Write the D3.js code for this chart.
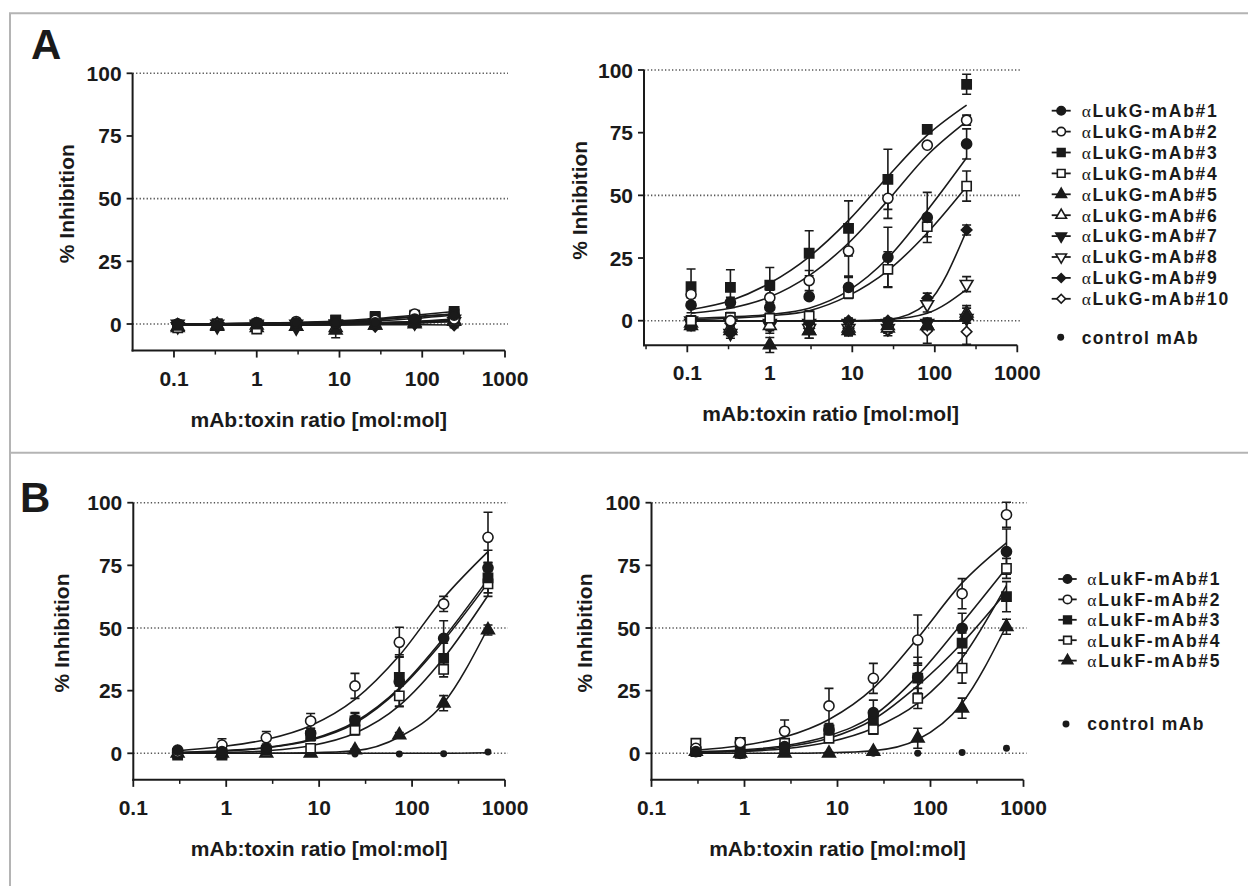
<!DOCTYPE html>
<html>
<head>
<meta charset="utf-8">
<script src="https://cdn.jsdelivr.net/npm/d3@7"></script>
<style>
    body { margin: 0; background: #fff; }
    svg text { font-family: "Liberation Sans", Arial, sans-serif; font-weight: bold; fill: #1a1a1a; }
</style>
</head>
<body>
<svg id="chart" width="1248" height="886"></svg>
<script>
'use strict';

// doses (mAb:toxin molar ratio)
var doseA = [0.111, 0.333, 1, 3, 9, 27, 81, 243];
var doseB = [0.3, 0.9, 2.7, 8.1, 24.3, 72.9, 218.7, 656.1];

var lukGNames = ['LukG-mAb#1', 'LukG-mAb#2', 'LukG-mAb#3', 'LukG-mAb#4', 'LukG-mAb#5',
    'LukG-mAb#6', 'LukG-mAb#7', 'LukG-mAb#8', 'LukG-mAb#9', 'LukG-mAb#10'];
var lukFNames = ['LukF-mAb#1', 'LukF-mAb#2', 'LukF-mAb#3', 'LukF-mAb#4', 'LukF-mAb#5'];
var controlName = 'control mAb';

var yTicks = [0, 25, 50, 75, 100];
var yGrid = [0, 50, 100];
var xTicks = [0.1, 1, 10, 100, 1000];
var xMinorTicks = [0.0316, 0.316, 3.16, 31.6, 316];
var xTickLabels = ['0.1', '1', '10', '100', '1000'];

// panel A, left
var aLeftMeans = [
    [0, -0.5, 0.5, 0.5, 0.5, 0.5, 2, 3.5],
    [0, 0, 0.5, 1, 0.5, 1.5, 4, 2],
    [-0.5, 0, 0, -0.5, 1.5, 3, 3.5, 5],
    [-1.5, 0, -2, -0.5, 1.5, 2.5, 3, 4],
    [-1.5, -1, -0.5, -1, -2.5, -0.5, 0.5, 1.5],
    [-1, -0.5, -1.5, -1, -1.5, -0.5, 0, 1],
    [-1, -1, 0, -1.5, 0, 0, 0.5, 1],
    [0, 0, -0.5, 0, 0, 0.5, 1, 2],
    [0, 0, 0, -0.5, -0.5, -1, 0, -0.5],
    [0, 0.5, 0, 0.5, 0, 0.5, 1.5, 1.5]
];
var aLeftErr = [
    [0.5, 0.5, 0.5, 0.5, 1, 1, 1, 1],
    [0.5, 0.5, 0.5, 0.5, 1, 1, 1, 1],
    [0.5, 0.5, 0.5, 0.5, 1, 1, 1, 1],
    [1, 0.5, 1, 0.5, 1, 1, 1, 1],
    [1, 0.5, 0.5, 0.5, 3, 1, 1, 1],
    [0.5, 0.5, 0.5, 0.5, 1, 1, 1, 1],
    [0.5, 0.5, 0.5, 0.5, 1, 1, 1, 1],
    [0.5, 0.5, 0.5, 0.5, 1, 1, 1, 1],
    [0.5, 0.5, 0.5, 0.5, 1, 1, 1, 1],
    [0.5, 0.5, 0.5, 0.5, 1, 1, 1, 1]
];
var aLeftFit = [
    [0, 0, 0.2, 0.4, 0.7, 1.2, 2.2, 3.6],
    [0, 0.1, 0.3, 0.6, 1, 1.8, 3, 4],
    [0, 0.1, 0.3, 0.6, 1.2, 2.2, 3.5, 5],
    [-0.3, -0.2, 0, 0.3, 0.8, 1.7, 2.8, 4],
    [-0.5, -0.5, -0.5, -0.5, -0.4, 0, 0.6, 1.5],
    [-0.5, -0.5, -0.5, -0.4, -0.3, -0.1, 0.3, 1],
    [-0.3, -0.3, -0.3, -0.2, 0, 0.2, 0.5, 1],
    [0, 0, 0, 0, 0.1, 0.4, 1, 2],
    [0, 0, 0, -0.1, -0.2, -0.3, -0.3, -0.4],
    [0, 0.1, 0.2, 0.3, 0.4, 0.6, 1, 1.5]
];
var aLeftControl = [0, 0, 0, 0, 0, 0, 0, 0];

// panel A, right
var aRightMeans = [
    [6.2, 7.3, 5.3, 9.6, 13.3, 25.3, 41.2, 70.5],
    [10.5, 0, 9.2, 16, 27.8, 48.8, 70, 80],
    [13.6, 13.3, 14.2, 26.9, 36.8, 56.4, 76.3, 94.3],
    [0, 1.3, 1, 1.9, 10.9, 20.5, 37.5, 53.7],
    [-2, -4, -9.7, -4, -4, -2, -2, 2],
    [-1, -3, -2, -4, -3, -3, -2, 3],
    [-1, -5, -2, -1, -1, -1, -1, 1],
    [0, -1, -1, -3, -3, -3, 6.5, 14.6],
    [0, 0, 0, -1, 0, 0, 9, 36.2],
    [0, -1, -1, -3, -3, -4, -4, -4.4]
];
var aRightErr = [
    [3, 2, 3, 1, 4, 12, 10, 6],
    [3, 2, 3, 4, 10, 8, 1, 2],
    [7, 7, 7, 9, 11, 12, 1, 4],
    [2, 2, 2, 2, 2, 7, 4, 6],
    [2, 2, 3, 3, 2, 2, 2, 3],
    [2, 2, 2, 3, 3, 2, 2, 3],
    [2, 2, 3, 2, 2, 2, 2, 2],
    [2, 2, 2, 2, 2, 2, 3, 3],
    [1, 1, 1, 2, 1, 1, 2, 2],
    [2, 2, 2, 2, 2, 2, 5, 5]
];
var aRightFit = [
    [1, 1.5, 2.5, 5, 12, 25, 44, 65],
    [3, 5, 9.5, 18, 31, 48, 66, 79.5],
    [4.5, 8, 15, 25.5, 40, 57.5, 74, 86],
    [0.5, 1, 2, 4, 10, 20, 35, 53.5],
    [0, 0, 0, 0, 0, 0, 0, 0],
    [0, 0, 0, 0, 0, 0, 0, 0],
    [0, 0, 0, 0, 0, 0, 0, 0],
    [0, 0, 0, 0, 0, 0.5, 3, 12.5],
    [0, 0, 0, 0, 0, 0.5, 7, 36],
    [0, 0, 0, 0, 0, 0, 0, 0]
];
var aRightControl = [0, 0, 0, 0, 0, 0, 0, 0];

// panel B, left
var bLeftMeans = [
    [1.3, 0.7, 2, 8, 13.3, 28.6, 45.9, 74],
    [0.5, 3.3, 6.2, 12.9, 26.9, 44.3, 59.6, 86.2],
    [-0.7, -0.7, 1.3, 7, 12.9, 30.3, 37.9, 70],
    [0, 0, 0.7, 2, 9.3, 22.9, 33.5, 67.6],
    [0, 0, 0, 0, 1.3, 7.3, 20, 49.2]
];
var bLeftErr = [
    [0.5, 0.5, 1, 2, 3, 10, 7, 7],
    [0.5, 2.5, 2.5, 3, 5, 6, 3, 10],
    [0.5, 0.5, 1, 2, 3, 9, 6, 6],
    [0.5, 0.5, 1, 1, 2, 4, 3, 5],
    [0.3, 0.3, 0.3, 0.5, 0.5, 1, 3, 2]
];
var bLeftFit = [
    [0.3, 1, 2.3, 5.5, 12.5, 26, 46, 69.5],
    [1, 2.7, 5.5, 11, 21.5, 39, 62, 80.5],
    [0.3, 0.9, 2.2, 5.2, 12, 25.5, 45, 68],
    [0.1, 0.3, 1, 3, 8, 19, 38, 63],
    [0, 0, 0, 0.2, 1, 6.5, 20, 50]
];
var bLeftControl = [0.5, 0, 0, 0, -0.3, -0.3, -0.2, 0.5];
var bLeftControlFit = [0, 0, 0, 0, 0, 0, 0, 0.2];

// panel B, right
var bRightMeans = [
    [0.7, 0, 2.7, 9.3, 16.2, 30.3, 49.9, 80.5],
    [2, 4.3, 8.8, 18.9, 29.9, 45.2, 63.7, 95.2],
    [0.7, 0, 2, 9.3, 13.3, 30, 44, 62.5],
    [4, 4.3, 4, 6, 9.6, 21.9, 34, 73.8],
    [0.7, 0, 0, 0, 0.7, 6, 18, 50.5]
];
var bRightErr = [
    [0.5, 0.5, 1, 2, 5, 8, 6, 9],
    [1, 1, 4.5, 7, 6, 10, 6, 5],
    [0.5, 0.5, 1, 2, 3, 6, 4, 6],
    [1, 1, 1, 1, 2, 4, 6, 4],
    [0.3, 0.3, 0.3, 0.5, 0.5, 4, 4, 3]
];
var bRightFit = [
    [0.6, 1.3, 3, 7, 15, 31, 52, 74],
    [1.2, 3, 6.5, 13.5, 26, 46, 68, 84],
    [0.4, 1, 2.5, 6, 13.5, 27, 44, 64.5],
    [0.3, 0.7, 1.8, 4.5, 10, 20, 38, 67],
    [0, 0, 0, 0.2, 1, 5.5, 20, 51]
];
var bRightControl = [0, 0, 0, 0, 0, 0, 0.3, 2];

// marker styles, in series order: filled/open circle, square, triangle, triangle down, diamond
var markerShapes = ['circle', 'circle', 'square', 'square', 'up', 'up', 'down', 'down', 'diamond', 'diamond'];
var markerFilled = [true, false, true, false, true, false, true, false, true, false];

var INK = '#1a1a1a';
var LEGEND_FONT = 17.5;

var panels = [
    { doses: doseA, means: aLeftMeans, errs: aLeftErr, fits: aLeftFit, control: aLeftControl, controlFit: null,
      xLog: [-1.5, 3], xRange: [132.6, 505], yMin: -10.6, y0: 324, y100: 73.3, titleX: 74 },
    { doses: doseA, means: aRightMeans, errs: aRightErr, fits: aRightFit, control: aRightControl, controlFit: null,
      xLog: [-1.525, 3], xRange: [644, 1017.3], yMin: -9.8, y0: 320.7, y100: 70, titleX: 587 },
    { doses: doseB, means: bLeftMeans, errs: bLeftErr, fits: bLeftFit, control: bLeftControl, controlFit: bLeftControlFit,
      xLog: [-1, 3], xRange: [133.3, 505], yMin: -10.6, y0: 753.3, y100: 502.7, titleX: 69 },
    { doses: doseB, means: bRightMeans, errs: bRightErr, fits: bRightFit, control: bRightControl, controlFit: null,
      xLog: [-1, 3], xRange: [651.5, 1023.5], yMin: -10.6, y0: 753.3, y100: 502.7, titleX: 592 }
];

var legends = [
    { names: lukGNames, lineX: [1051.7, 1070.7], textX: 1081.7, rowY: 110.7, rowStep: 20.9, controlX: 1060.7, controlY: 337.3 },
    { names: lukFNames, lineX: [1058.3, 1076.7], textX: 1087.3, rowY: 579, rowStep: 20.4, controlX: 1066, controlY: 724 }
];

var svg = d3.select('#chart');

function symbolPath(shape, scale) {
    if (shape === 'circle') { return d3.symbol(d3.symbolCircle, 80 * scale)(); }
    if (shape === 'square') { return d3.symbol(d3.symbolSquare, 85 * scale)(); }
    if (shape === 'up' || shape === 'down') { return d3.symbol(d3.symbolTriangle, 70 * scale)(); }
    return d3.symbol(d3.symbolSquare, 55 * scale)();
}

function symbolRotation(shape) {
    if (shape === 'down') { return 180; }
    if (shape === 'diamond') { return 45; }
    return 0;
}

function drawMarker(g, x, y, index, scale) {
    var shape = markerShapes[index];
    g.append('path')
        .attr('d', symbolPath(shape, scale || 1))
        .attr('transform', 'translate(' + x + ',' + y + ') rotate(' + symbolRotation(shape) + ')')
        .attr('fill', markerFilled[index] ? INK : '#fff')
        .attr('stroke', INK)
        .attr('stroke-width', 1.6);
}

function drawControlMarker(g, x, y) {
    g.append('path')
        .attr('d', d3.symbol(d3.symbolCircle, 38)())
        .attr('transform', 'translate(' + x + ',' + y + ')')
        .attr('fill', INK);
}

function drawPanel(p) {
    var x = d3.scaleLog()
        .domain([Math.pow(10, p.xLog[0]), Math.pow(10, p.xLog[1])])
        .range(p.xRange);
    var unit = (p.y0 - p.y100) / 100;
    var y = d3.scaleLinear()
        .domain([p.yMin, 100])
        .range([p.y0 - p.yMin * unit, p.y100]);

    var g = svg.append('g');
    var axisY = y(p.yMin);

    // dotted reference lines
    g.selectAll('line.grid')
        .data(yGrid)
        .enter().append('line')
        .attr('x1', p.xRange[0])
        .attr('x2', p.xRange[1] + 3)
        .attr('y1', function(d) { return y(d); })
        .attr('y2', function(d) { return y(d); })
        .attr('stroke', '#555')
        .attr('stroke-width', 1.6)
        .attr('stroke-dasharray', '1.3 2.2');

    var line = d3.line()
        .x(function(d) { return x(d[0]); })
        .y(function(d) { return y(d[1]); })
        .curve(d3.curveMonotoneX);

    function drawFit(values) {
        g.append('path')
            .attr('d', line(p.doses.map(function(dose, i) { return [dose, values[i]]; })))
            .attr('fill', 'none')
            .attr('stroke', INK)
            .attr('stroke-width', 1.6);
    }

    p.fits.forEach(drawFit);
    if (p.controlFit) {
        drawFit(p.controlFit);
    }

    // error bars
    p.means.forEach(function(series, s) {
        series.forEach(function(mean, i) {
            var err = p.errs[s][i];
            var cx = x(p.doses[i]);
            var top = y(mean + err);
            var bottom = y(mean - err);
            g.append('path')
                .attr('d', 'M' + (cx - 4.5) + ',' + top + 'H' + (cx + 4.5) +
                    'M' + cx + ',' + top + 'V' + bottom +
                    'M' + (cx - 4.5) + ',' + bottom + 'H' + (cx + 4.5))
                .attr('fill', 'none')
                .attr('stroke', INK)
                .attr('stroke-width', 1.6);
        });
    });

    p.control.forEach(function(v, i) {
        drawControlMarker(g, x(p.doses[i]), y(v));
    });

    // later series first so #1..#3 end up on top
    for (var s = p.means.length - 1; s >= 0; s--) {
        p.means[s].forEach(function(mean, i) {
            drawMarker(g, x(p.doses[i]), y(mean), s);
        });
    }

    // axes
    g.append('line')
        .attr('x1', p.xRange[0]).attr('x2', p.xRange[0])
        .attr('y1', axisY + 1).attr('y2', y(100))
        .attr('stroke', INK).attr('stroke-width', 2);
    g.append('line')
        .attr('x1', p.xRange[0] - 1).attr('x2', p.xRange[1])
        .attr('y1', axisY).attr('y2', axisY)
        .attr('stroke', INK).attr('stroke-width', 2);

    g.selectAll('line.ytick')
        .data(yTicks)
        .enter().append('line')
        .attr('x1', p.xRange[0] - 6).attr('x2', p.xRange[0])
        .attr('y1', function(d) { return y(d); })
        .attr('y2', function(d) { return y(d); })
        .attr('stroke', INK).attr('stroke-width', 1.8);

    g.selectAll('text.ylabel')
        .data(yTicks)
        .enter().append('text')
        .attr('x', p.xRange[0] - 11)
        .attr('y', function(d) { return y(d) + 7.5; })
        .attr('text-anchor', 'end')
        .attr('font-size', 21)
        .text(function(d) { return d; });

    var majors = xTicks.filter(function(t) { return x(t) >= p.xRange[0] - 0.5; });
    var minors = xMinorTicks.filter(function(t) { return x(t) >= p.xRange[0] + 2; });

    g.selectAll('line.xtick')
        .data(majors)
        .enter().append('line')
        .attr('x1', function(d) { return x(d); })
        .attr('x2', function(d) { return x(d); })
        .attr('y1', axisY).attr('y2', axisY + 7)
        .attr('stroke', INK).attr('stroke-width', 1.8);

    g.selectAll('line.xminor')
        .data(minors)
        .enter().append('line')
        .attr('x1', function(d) { return x(d); })
        .attr('x2', function(d) { return x(d); })
        .attr('y1', axisY).attr('y2', axisY + 4)
        .attr('stroke', INK).attr('stroke-width', 1.5);

    g.selectAll('text.xlabel')
        .data(majors)
        .enter().append('text')
        .attr('x', function(d) { return x(d); })
        .attr('y', axisY + 35)
        .attr('text-anchor', 'middle')
        .attr('font-size', 21)
        .text(function(d) { return xTickLabels[xTicks.indexOf(d)]; });

    g.append('text')
        .attr('x', (p.xRange[0] + p.xRange[1]) / 2)
        .attr('y', axisY + 76)
        .attr('text-anchor', 'middle')
        .attr('font-size', 21)
        .text('mAb:toxin ratio [mol:mol]');

    g.append('text')
        .attr('transform', 'translate(' + p.titleX + ',' + y(48) + ') rotate(-90)')
        .attr('text-anchor', 'middle')
        .attr('font-size', 21)
        .text('% Inhibition');
}

function drawLegend(lg) {
    var g = svg.append('g');
    lg.names.forEach(function(name, i) {
        var cy = lg.rowY + i * lg.rowStep;
        g.append('line')
            .attr('x1', lg.lineX[0]).attr('x2', lg.lineX[1])
            .attr('y1', cy).attr('y2', cy)
            .attr('stroke', INK).attr('stroke-width', 1.8);
        drawMarker(g, (lg.lineX[0] + lg.lineX[1]) / 2, cy, i, 0.7);
        var t = g.append('text')
            .attr('x', lg.textX)
            .attr('y', cy + 6.3)
            .attr('font-size', LEGEND_FONT)
            .attr('letter-spacing', 1.7);
        t.append('tspan')
            .style('font-family', '"Liberation Serif", "Times New Roman", serif')
            .style('font-weight', 'normal')
            .text('\u03b1');
        t.append('tspan').text(name);
    });
    drawControlMarker(g, lg.controlX, lg.controlY);
    g.append('text')
        .attr('x', lg.textX)
        .attr('y', lg.controlY + 6.3)
        .attr('font-size', LEGEND_FONT)
        .attr('letter-spacing', 1.3)
        .text(controlName);
}

// frame around the figure
var frame = svg.append('g')
    .attr('stroke', '#b4b4b4')
    .attr('stroke-width', 2)
    .attr('fill', 'none');
frame.append('path').attr('d', 'M10,886V13.3H1248');
frame.append('path').attr('d', 'M10,452.7H1248');

svg.append('text').attr('x', 31).attr('y', 59).attr('font-size', 42).text('A');
svg.append('text').attr('x', 20).attr('y', 511.7).attr('font-size', 42).text('B');

panels.forEach(drawPanel);
legends.forEach(drawLegend);
</script>
</body>
</html>
